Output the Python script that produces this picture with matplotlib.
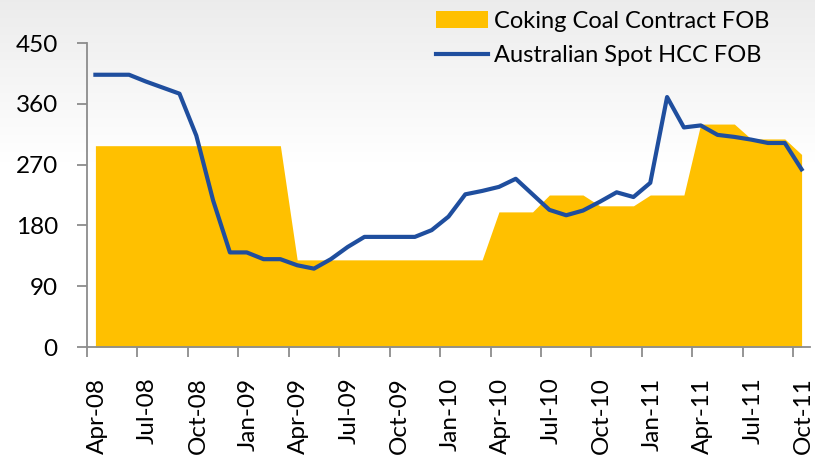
import matplotlib
matplotlib.use("Agg")
import matplotlib.pyplot as plt
import matplotlib.transforms as mtransforms
import numpy as np

# ---- data ----
months = ["Apr-08", "May-08", "Jun-08", "Jul-08", "Aug-08", "Sep-08", "Oct-08", "Nov-08", "Dec-08",
          "Jan-09", "Feb-09", "Mar-09", "Apr-09", "May-09", "Jun-09", "Jul-09", "Aug-09", "Sep-09",
          "Oct-09", "Nov-09", "Dec-09", "Jan-10", "Feb-10", "Mar-10", "Apr-10", "May-10", "Jun-10",
          "Jul-10", "Aug-10", "Sep-10", "Oct-10", "Nov-10", "Dec-10", "Jan-11", "Feb-11", "Mar-11",
          "Apr-11", "May-11", "Jun-11", "Jul-11", "Aug-11", "Sep-11", "Oct-11"]
contract_fob = [298, 298, 298, 298, 298, 298, 298, 298, 298,
                298, 298, 298, 129, 129, 129, 129, 129, 129,
                129, 129, 129, 129, 129, 129, 200, 200, 200,
                225, 225, 225, 209, 209, 209, 225, 225, 225,
                330, 330, 330, 308, 308, 308, 285]
spot_hcc_fob = [403, 403, 403, 393, 384, 375, 313, 217, 140,
                140, 130, 130, 121, 116, 130, 148, 163, 163,
                163, 163, 173, 193, 226, 231, 237, 249, 226,
                203, 195, 202, 215, 229, 222, 243, 370, 325,
                328, 314, 311, 307, 302, 302, 263]
tick_labels = ["Apr-08", "Jul-08", "Oct-08", "Jan-09", "Apr-09", "Jul-09", "Oct-09", "Jan-10",
               "Apr-10", "Jul-10", "Oct-10", "Jan-11", "Apr-11", "Jul-11", "Oct-11"]
y_ticks = [0, 90, 180, 270, 360, 450]
series_names = ["Coking Coal Contract FOB", "Australian Spot HCC FOB"]

FONT = "Lato"
FS_TICK = 17.5
FS_LEG = 17

W, H = 815, 457
fig = plt.figure(figsize=(W / 100, H / 100), dpi=100)

# background gradient (light grey at top fading to white)
bg = fig.add_axes([0, 0, 1, 1], zorder=-10)
grad = np.linspace(0, 1, 256)
colors = np.ones((256, 1, 3))
shade = np.clip(1 - grad / 0.35, 0, 1)
val = 1.0 - 0.075 * shade
colors[:, 0, 0] = val
colors[:, 0, 1] = val
colors[:, 0, 2] = val
bg.imshow(colors, aspect="auto", extent=[0, 1, 0, 1], origin="upper")
bg.set_axis_off()

left, right, top, bottom = 87, 810, 43, 347
ax = fig.add_axes([left / W, 1 - bottom / H, (right - left) / W, (bottom - top) / H])
ax.patch.set_alpha(0)

x = np.arange(len(months)) + 0.5
ax.fill_between(x, 0, contract_fob, color="#FFC000", linewidth=0, label=series_names[0], zorder=2)
ax.plot(x, spot_hcc_fob, color="#1F4E9E", linewidth=3, label=series_names[1], zorder=3,
        solid_joinstyle="round")

ax.set_xlim(0, len(months))
ax.set_ylim(0, 450)

for s in ["top", "right"]:
    ax.spines[s].set_visible(False)
for s in ["left", "bottom"]:
    ax.spines[s].set_color("#8c8c8c")
    ax.spines[s].set_linewidth(1.3)
ax.tick_params(axis="both", which="both", color="#8c8c8c", width=1.3, length=7, labelcolor="black")
ax.tick_params(axis="y", pad=14)
ax.tick_params(axis="x", pad=15)

ax.set_yticks(y_ticks)
ax.set_yticklabels([str(v) for v in y_ticks], fontfamily=FONT, fontsize=FS_TICK)
xt = np.arange(0, len(months) + 1, 3)
ax.set_xticks(xt)
ax.set_xticklabels(tick_labels, rotation=90, fontfamily=FONT, fontsize=FS_TICK, va="top", ha="center")

offset = mtransforms.ScaledTranslation(10 / 100, 0, fig.dpi_scale_trans)
for lab in ax.get_xticklabels():
    lab.set_transform(lab.get_transform() + offset)

leg = ax.legend(loc="upper left", bbox_to_anchor=(436 / W, 1 - 11 / H), bbox_transform=fig.transFigure,
                frameon=False, prop={"family": FONT, "size": FS_LEG}, handlelength=2.2, handletextpad=0.25,
                labelspacing=0.55, borderpad=0, borderaxespad=0, handleheight=0.7)

fig.savefig("out.png", dpi=100)
